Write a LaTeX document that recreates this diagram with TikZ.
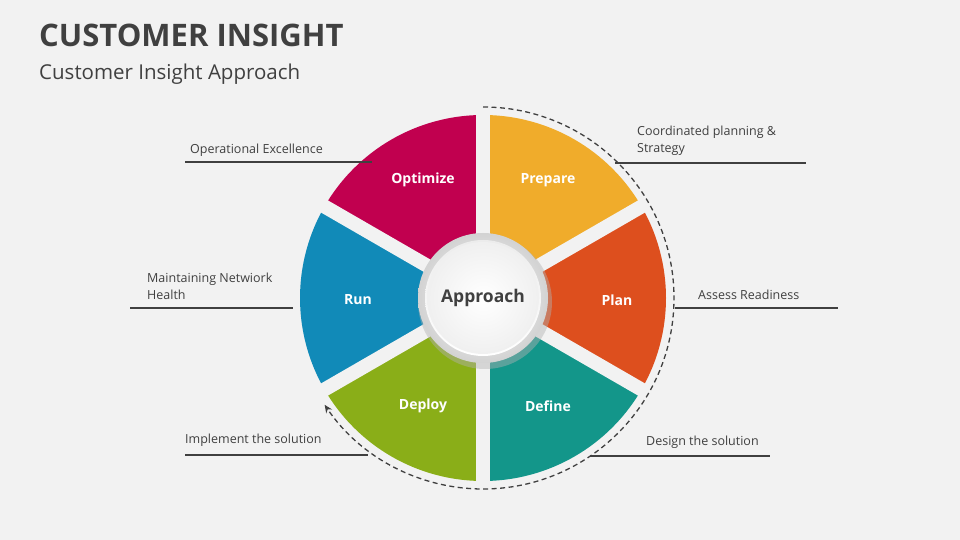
\documentclass[tikz,border=0pt]{standalone}
\usepackage{fontspec}
\setmainfont{Open Sans}
\usetikzlibrary{arrows.meta,calc}
\definecolor{bg}{HTML}{F2F2F2}
\definecolor{txt}{HTML}{404040}
\definecolor{cOpt}{HTML}{C1004F}
\definecolor{cPre}{HTML}{F0AC2B}
\definecolor{cPla}{HTML}{DD4F1E}
\definecolor{cDef}{HTML}{13968A}
\definecolor{cDep}{HTML}{8AAE18}
\definecolor{cRun}{HTML}{118AB8}
\tikzset{
 seglabel/.style={text=white,font=\fontsize{14}{16}\selectfont\bfseries},
 sidelabel/.style={text=txt,font=\fontsize{12.5}{17}\selectfont,anchor=west,align=left,inner sep=0},
 rule/.style={draw=txt,line width=1.2pt},
}
\begin{document}
\begin{tikzpicture}[x=1pt,y=1pt]
\fill[bg] (0,0) rectangle (960,540);
\useasboundingbox (0,0) rectangle (960,540);
\node[anchor=west,text=txt,font=\fontsize{31}{34}\selectfont\bfseries,inner sep=0] (title) at (39,505) {CUSTOMER INSIGHT};
\node[anchor=west,text=txt,font=\fontsize{20.5}{23}\selectfont,inner sep=0] (sub) at (39,466) {Customer Insight Approach};
\coordinate (c) at (483,242);
\foreach \a/\b/\col in {90/150/cOpt,30/90/cPre,-30/30/cPla,-90/-30/cDef,-150/-90/cDep,150/210/cRun}
  \fill[\col] (c) -- ++(\a:183) arc[start angle=\a,end angle=\b,radius=183] -- cycle;
\foreach \a in {90,30,-30,-90,-150,150}
  \draw[bg,line width=14pt] (c) -- ++(\a:190);
\draw[txt,line width=1.3pt,dash pattern=on 5pt off 3.5pt,-{Stealth[length=8pt,width=7pt]}] (c) ++(90:191) arc[start angle=90,end angle=-146,radius=191];
% centre
\fill[black!30,opacity=0.45] ($(c)+(2,-4)$) circle (67);
\shade[inner color=white,outer color=gray!35] (c) circle (65);
\shade[top color=gray!15,bottom color=white] (c) circle (58);
\shade[inner color=white,outer color=gray!12] (c) circle (56);
\node[text=txt,font=\fontsize{17.5}{20}\selectfont\bfseries] (ap) at (c) {Approach};
\node[seglabel] (opt) at (423,360) {Optimize};
\node[seglabel] (pre) at (548,360) {Prepare};
\node[seglabel] (pla) at (617,240) {Plan};
\node[seglabel] (def) at (548,134) {Define};
\node[seglabel] (dep) at (423,134) {Deploy};
\node[seglabel] (run) at (358,240) {Run};
% side labels
\node[sidelabel] (l1) at (190,390) {Operational Excellence};
\draw[rule] (185,378) -- (372,378);
\node[sidelabel] (l2) at (147,254) {Maintaining Netwiork\\Health};
\draw[rule] (130,232) -- (293,232);
\node[sidelabel] (l3) at (185,100) {Implement the solution};
\draw[rule] (185,85) -- (368,85);
\node[sidelabel] (r1) at (637,399) {Coordinated planning \&\\Strategy};
\draw[rule] (615,377) -- (806,377);
\node[sidelabel] (r2) at (698,245) {Assess Readiness};
\draw[rule] (675,232) -- (838,232);
\node[sidelabel] (r3) at (646,98) {Design the solution};
\draw[rule] (590,84) -- (770,84);
\end{tikzpicture}
\end{document}
